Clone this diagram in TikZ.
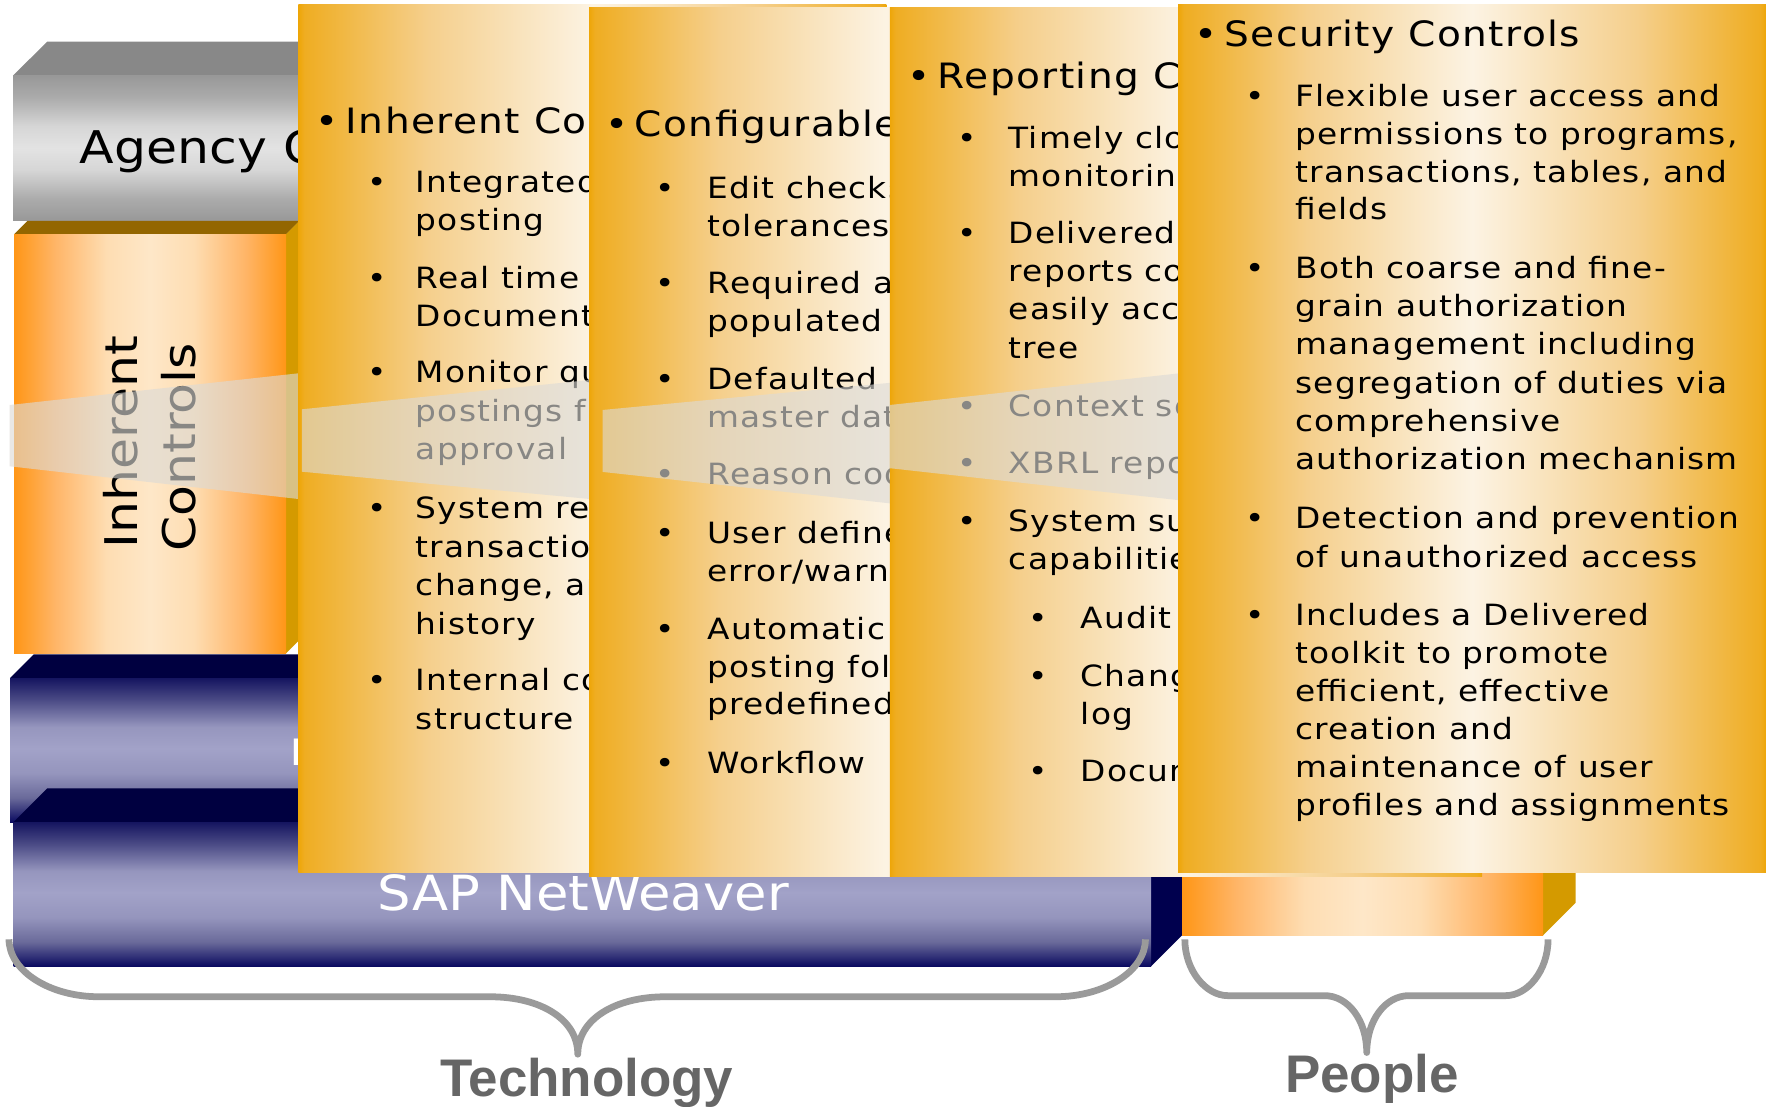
\documentclass[tikz,border=0pt]{standalone}
\usepackage{fontspec}
\setmainfont{DejaVu Sans}
\newfontfamily\pfont[FakeStretch=1.12,LetterSpace=4]{DejaVu Sans}
\newfontfamily\rfont[FakeStretch=1.12]{DejaVu Sans}
\newfontfamily\sapfont[FakeStretch=1.09]{DejaVu Sans}
\newfontfamily\lblfont{Liberation Sans}

\definecolor{pA}{HTML}{EEA608}
\definecolor{pB}{HTML}{EFAD22}
\definecolor{pC}{HTML}{F5CF8C}
\definecolor{pD}{HTML}{FCF3E3}
\definecolor{oA}{HTML}{FF9616}
\definecolor{oB}{HTML}{FFB567}
\definecolor{oC}{HTML}{FEDDB2}
\definecolor{oD}{HTML}{FEE7C8}
\definecolor{gA}{HTML}{989898}
\definecolor{gB}{HTML}{ABABAB}
\definecolor{gC}{HTML}{D6D6D6}
\definecolor{gD}{HTML}{E3E3E3}
\definecolor{nA}{HTML}{0A0A60}
\definecolor{nB}{HTML}{6A6A9A}
\definecolor{nC}{HTML}{9595BD}
\definecolor{nD}{HTML}{A2A2C8}
\definecolor{nE}{HTML}{9696BE}
\definecolor{nF}{HTML}{4A4A85}
\definecolor{nG}{HTML}{151560}
\definecolor{agTop}{HTML}{888888}
\definecolor{orTop}{HTML}{936600}
\definecolor{orSide}{HTML}{D49A00}
\definecolor{nvTop}{HTML}{000040}
\definecolor{nvSide}{HTML}{00004E}
\definecolor{beamc}{HTML}{DCDAD6}
\definecolor{braceg}{HTML}{9A9A9A}
\definecolor{lblg}{HTML}{666666}

\pgfdeclarehorizontalshading{panelshade}{100bp}{color(0bp)=(pA); color(25bp)=(pA); color(25.5bp)=(pB); color(36bp)=(pC); color(50bp)=(pD); color(64bp)=(pC); color(74.5bp)=(pB); color(75bp)=(pA); color(100bp)=(pA)}
\pgfdeclarehorizontalshading{orshade}{100bp}{color(0bp)=(oA); color(25bp)=(oA); color(32.5bp)=(oB); color(42bp)=(oC); color(50bp)=(oD); color(58bp)=(oC); color(67.5bp)=(oB); color(75bp)=(oA); color(100bp)=(oA)}
\pgfdeclareverticalshading{agshade}{100bp}{color(0bp)=(gA); color(25bp)=(gA); color(32.5bp)=(gB); color(42.5bp)=(gC); color(50bp)=(gD); color(57.5bp)=(gC); color(67.5bp)=(gB); color(75bp)=(gA); color(100bp)=(gA)}
\pgfdeclareverticalshading{nvshade}{100bp}{color(0bp)=(nA); color(25bp)=(nA); color(33.5bp)=(nB); color(42bp)=(nC); color(50.5bp)=(nD); color(58bp)=(nE); color(67.5bp)=(nF); color(75bp)=(nG); color(100bp)=(nG)}

\newcommand\myHD[5]{\node[hdb] (#1b) at (#2,#4) {•}; \node[hd] (#1) at (#3,#4) {#5};}
\newcommand\mySB[5]{\node[sbb] (#1b) at (#2,#4) {•}; \node[sb] (#1) at (#3,#4) {#5};}
\newcommand\myTL[4]{\node[sb] (#1) at (#2,#3) {#4};}

\begin{document}
\begin{tikzpicture}[x=1pt,y=-1pt,
  hd/.style={font=\pfont\fontsize{31}{37}\selectfont,anchor=base west,inner sep=0pt,text=black},
  hdb/.style={hd,anchor=base},
  sb/.style={font=\pfont\fontsize{26}{34}\selectfont,anchor=base west,inner sep=0pt,text=black},
  sbb/.style={sb,anchor=base},
  big/.style={font=\rfont\fontsize{40}{44}\selectfont,anchor=base west,inner sep=0pt,text=black},
  sap/.style={font=\sapfont\fontsize{43}{48}\selectfont,anchor=base west,inner sep=0pt,text=white},
  beam/.style={fill=beamc,fill opacity=0.62},
  brace/.style={draw=braceg,line width=6pt,line join=round},
  lbl/.style={font=\lblfont\bfseries\fontsize{47}{50}\selectfont,text=lblg,anchor=base,inner sep=0pt}]
\fill[white] (0,0) rectangle (1568,982);
\useasboundingbox (0,0) rectangle (1568,982);

% Agency box
\fill[agTop] (11.6,67) -- (42,37) -- (1030,37) -- (1000,67) -- cycle;
\shade[shading=agshade] (11.6,67) rectangle (1000,196);
\node[big] (agency) at (70.7,145) {Agency C};

% Inherent controls box
\fill[orTop] (12.6,208) -- (24.6,196) -- (266,196) -- (254,208) -- cycle;
\fill[orSide] (254,208) -- (266,196) -- (266,568) -- (254,580) -- cycle;
\shade[shading=orshade] (12.6,208) rectangle (254,580);
\node[big,rotate=90] (inh1) at (122,487) {Inherent};
\node[big,rotate=90] (inh2) at (174,490) {Controls};
\fill[beam] (8.5,359.6) -- (264.5,331.5) -- (264.5,443) -- (8.5,414) -- cycle;

% middle navy box
\fill[nvTop] (9,602) -- (30,581) -- (1043,581) -- (1022,602) -- cycle;
\shade[shading=nvshade] (9,602) rectangle (1022,730);
\node[sap] (erp) at (256.5,680) {r};

% SAP NetWeaver box
\fill[nvTop] (12,730) -- (42,700) -- (1050,700) -- (1022,730) -- cycle;
\fill[nvSide] (1022,730) -- (1050,702) -- (1050,830) -- (1022,858) -- cycle;
\shade[shading=nvshade] (12,730) rectangle (1022,858);
\node[sap] (sapnw) at (335,808) {SAP NetWeaver};

% People box
\fill[orSide] (1370,700) -- (1399,671) -- (1399,801.5) -- (1370,830.5) -- cycle;
\shade[shading=orshade] (1049.5,700) rectangle (1370,830.5);

% Panel 1
\shade[shading=panelshade] (265,3.6) rectangle (787,775);
\myHD{p1h}{290}{307}{118.4}{Inherent Co}
\mySB{p1a}{335}{369}{171}{Integrated}
\myTL{p1a2}{369}{204.5}{posting}
\mySB{p1b}{335}{369}{256}{Real time}
\myTL{p1b2}{369}{289.5}{Document}
\mySB{p1c}{335}{369}{340}{Monitor qu}
\myTL{p1c2}{369}{374}{postings f}
\myTL{p1c3}{369}{408}{approval}
\mySB{p1d}{335}{369}{460}{System rec}
\myTL{p1d2}{369}{494.6}{transaction}
\myTL{p1d3}{369}{528.8}{change, an}
\myTL{p1d4}{369}{563}{history}
\mySB{p1e}{335}{369}{612.8}{Internal co}
\myTL{p1e2}{369}{647.8}{structure}
\fill[beam] (268,363.4) -- (540,335.7) -- (540,444.6) -- (268,418.8) -- cycle;

% Panel 2
\shade[shading=panelshade] (523,7) rectangle (1049,778);
\myHD{p2h}{548}{563.5}{121.4}{Configurable}
\mySB{p2a}{591}{628}{176}{Edit checks}
\myTL{p2a2}{628}{209.6}{tolerances}
\mySB{p2b}{591}{628}{261}{Required an}
\myTL{p2b2}{628}{294.5}{populated}
\mySB{p2c}{591}{628}{345.7}{Defaulted an}
\myTL{p2c2}{628}{379.7}{master data}
\mySB{p2d}{591}{628}{430.6}{Reason cod}
\mySB{p2e}{591}{628}{482.4}{User defined}
\myTL{p2e2}{628}{516.4}{error/warni}
\mySB{p2f}{591}{628}{567.6}{Automatic}
\myTL{p2f2}{628}{601.7}{posting foll}
\myTL{p2f3}{628}{634.8}{predefined}
\mySB{p2g}{591}{628}{686.6}{Workflow}
\fill[beam] (535,364) -- (800,339) -- (800,448) -- (535,419) -- cycle;

% Panel 3
\shade[shading=panelshade] (790,7) rectangle (1316,778);
\myHD{p3h}{815.7}{832.6}{78.4}{Reporting Co}
\mySB{p3a}{858.6}{895.5}{131.7}{Timely close}
\myTL{p3a2}{895.5}{165.5}{monitoring}
\mySB{p3b}{858.6}{895.5}{216.6}{Delivered}
\myTL{p3b2}{895.5}{250}{reports con}
\myTL{p3b3}{895.5}{284}{easily acc}
\myTL{p3b4}{895.5}{318}{tree}
\mySB{p3c}{858.6}{895.5}{370}{Context se}
\mySB{p3d}{858.6}{895.5}{420.2}{XBRL repo}
\mySB{p3e}{858.6}{895.5}{472}{System su}
\myTL{p3e2}{895.5}{506}{capabilities}
\mySB{p3f}{922}{959.4}{557.9}{Audit}
\mySB{p3g}{922}{959.4}{609.7}{Change}
\myTL{p3g2}{959.4}{643.7}{log}
\mySB{p3i}{922}{959.4}{694}{Docum}
\fill[beam] (790,359.6) -- (1055,330.6) -- (1055,445) -- (790,415.7) -- cycle;

% Panel 4
\shade[shading=panelshade] (1046,3.6) rectangle (1568,775);
\myHD{p4h}{1071}{1087}{41.4}{Security Controls}
\mySB{p4a}{1114.7}{1150}{94.7}{Flexible user access and}
\myTL{p4a2}{1150}{127.9}{permissions to programs,}
\myTL{p4a3}{1150}{162.2}{transactions, tables, and}
\myTL{p4a4}{1150}{195.3}{fields}
\mySB{p4b}{1114.7}{1150}{247.1}{Both coarse and fine-}
\myTL{p4b2}{1150}{280.6}{grain authorization}
\myTL{p4b3}{1150}{314.6}{management including}
\myTL{p4b4}{1150}{349.2}{segregation of duties via}
\myTL{p4b5}{1150}{383.3}{comprehensive}
\myTL{p4b6}{1150}{417.3}{authorization mechanism}
\mySB{p4c}{1114.7}{1150}{469.5}{Detection and prevention}
\myTL{p4c2}{1150}{503.5}{of unauthorized access}
\mySB{p4d}{1114.7}{1150}{555}{Includes a Delivered}
\myTL{p4d2}{1150}{589}{toolkit to promote}
\myTL{p4d3}{1150}{622.4}{efficient, effective}
\myTL{p4d4}{1150}{657}{creation and}
\myTL{p4d5}{1150}{690.4}{maintenance of user}
\myTL{p4d6}{1150}{724.5}{profiles and assignments}

% Braces
\draw[brace] (8,834) .. controls (8,862) and (44,885) .. (88,885) -- (435,885) .. controls (480,885) and (513,905) .. (513,936) .. controls (513,905) and (546,885) .. (591,885) -- (937,885) .. controls (981,885) and (1017,862) .. (1017,834);
\draw[brace] (1052,834) .. controls (1052,862) and (1071,884) .. (1090,884) -- (1176,884) .. controls (1197,884) and (1213.5,906) .. (1213.5,934.5) .. controls (1213.5,906) and (1230,884) .. (1251,884) -- (1337,884) .. controls (1356,884) and (1374.5,862) .. (1374.5,834);
\node[lbl] (tech) at (521,973.7) {Technology};
\node[lbl] (people) at (1218,969.6) {People};
\end{tikzpicture}
\end{document}
